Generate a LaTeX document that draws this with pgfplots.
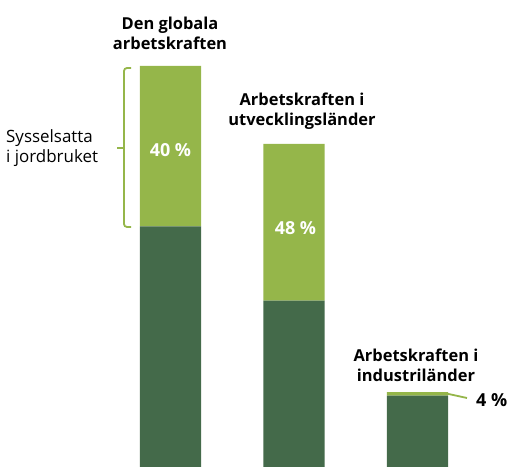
\documentclass[border=0pt]{standalone}
\usepackage{fontspec}
\setmainfont{Open Sans}
\usepackage{pgfplots}
\pgfplotsset{compat=1.18}
\definecolor{darkg}{HTML}{446A4A}
\definecolor{lightg}{HTML}{95B64A}
\newcommand\px[2]{(rel axis cs:{#1/508},{1-#2/468})}
\begin{document}
\begin{tikzpicture}
\begin{axis}[
  scale only axis, width=508bp, height=468bp,
  xmin=-1.3806, xmax=2.7328, ymin=-0.25, ymax=116.46,
  hide axis, clip=false,
  ybar stacked, bar width=0.494,
]
\addplot[fill=darkg, draw=none] coordinates {(0,60) (1,41.5) (2,17.8)};
\addplot[fill=lightg, draw=none] coordinates {(0,40) (1,39.1) (2,0.9)};
\path \px{0}{0} rectangle \px{508}{468};
% titles
\node[font=\fontsize{16.5}{20}\selectfont\bfseries, align=center] at \px{170}{33} {Den globala\\arbetskraften};
\node[font=\fontsize{16.5}{20}\selectfont\bfseries, align=center] at \px{302}{111} {Arbetskraften i\\utvecklingsländer};
\node[font=\fontsize{16.5}{20}\selectfont\bfseries, align=center] at \px{416}{365} {Arbetskraften i\\industriländer};
\node[font=\fontsize{18}{20}\selectfont\bfseries, anchor=west, inner sep=0pt] at \px{476}{400} {4 \%};
\draw[lightg, line width=1.8bp] \px{444}{393} -- \px{467}{398};
% bracket
\draw[lightg, line width=1.8bp, rounded corners=3bp] \px{131}{68} -- \px{124}{68} -- \px{124}{227} -- \px{131}{227};
\draw[lightg, line width=1.8bp] \px{124}{148} -- \px{117}{148};
\node[font=\fontsize{17}{20}\selectfont, align=left, anchor=west, inner sep=0pt] at \px{6}{148} {Sysselsatta\\i jordbruket};
\end{axis}
\node[font=\fontsize{18}{20}\selectfont\bfseries, text=white] at ([xshift=170.5bp, yshift=318bp]current axis.south west) {40 \%};
\node[font=\fontsize{18}{20}\selectfont\bfseries, text=white] at ([xshift=295.5bp, yshift=240bp]current axis.south west) {48 \%};
\end{tikzpicture}
\end{document}
